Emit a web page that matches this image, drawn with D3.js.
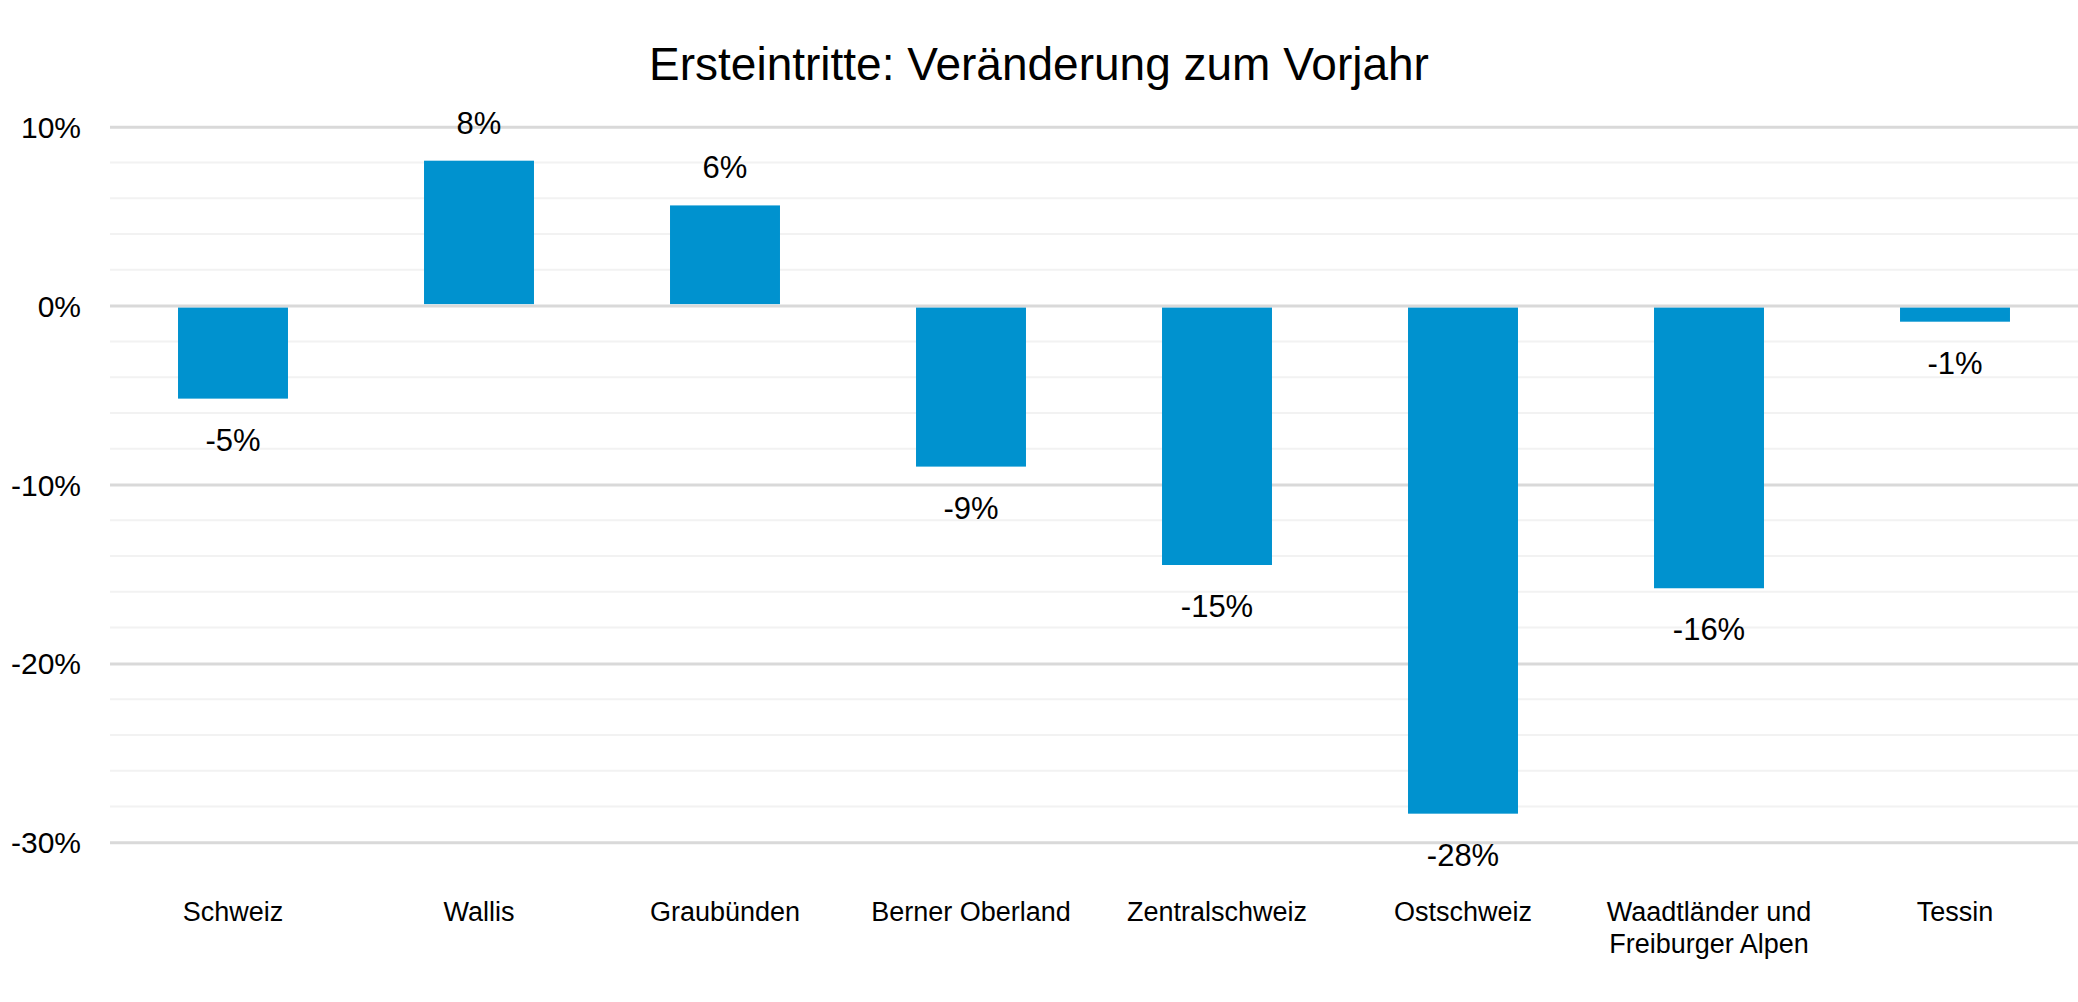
<!DOCTYPE html>
<html>
<head>
<meta charset="utf-8">
<script src="https://cdn.jsdelivr.net/npm/d3@7"></script>
<style>
  body { margin: 0; background: #fff; }
  text { font-family: "Liberation Sans", Arial, sans-serif; fill: #000; }
</style>
</head>
<body>
<script>
// data
var regions = ['Schweiz', 'Wallis', 'Graubünden', 'Berner Oberland', 'Zentralschweiz', 'Ostschweiz', 'Waadtländer und|Freiburger Alpen', 'Tessin'];
var changes = [-5.2, 8.1, 5.6, -9.0, -14.5, -28.4, -15.8, -0.9];
var labels = ['-5%', '8%', '6%', '-9%', '-15%', '-28%', '-16%', '-1%'];
var majorTicks = [10, 0, -10, -20, -30];

var width = 2078, height = 1002;

var svg = d3.select('body').append('svg')
  .attr('width', width)
  .attr('height', height);

var x = d3.scaleBand()
  .domain(regions)
  .range([110, 2078])
  .paddingInner(0.553)
  .paddingOuter(0.2765);

var y = d3.scaleLinear()
  .domain([10, -30])
  .range([126.7, 842.3]);

// minor gridlines every 2%
var minorTicks = d3.range(-30, 10.1, 2).filter(function(d) { return d % 10 !== 0; });
svg.append('g').selectAll('line')
  .data(minorTicks)
  .enter()
    .append('line')
    .attr('x1', 110)
    .attr('x2', width)
    .attr('y1', function(d) { return y(d); })
    .attr('y2', function(d) { return y(d); })
    .attr('stroke', '#f2f2f2')
    .attr('stroke-width', 2);

// major gridlines + tick labels
var yAxis = d3.axisLeft(y)
  .tickValues(majorTicks)
  .tickSize(-(width - 110))
  .tickPadding(30)
  .tickFormat(function(d) { return d + '%'; });

var gy = svg.append('g')
  .attr('transform', 'translate(110,0)')
  .call(yAxis);
gy.select('.domain').remove();
gy.selectAll('.tick line')
  .attr('stroke', '#d9d9d9')
  .attr('stroke-width', 3);
gy.selectAll('.tick text')
  .attr('x', -29)
  .attr('dy', '0.35em')
  .style('font-size', '30px')
  .style('fill', '#000');

// bars
svg.append('g').selectAll('rect')
  .data(changes)
  .enter()
    .append('rect')
    .attr('x', function(d, i) { return x(regions[i]); })
    .attr('width', x.bandwidth())
    .attr('y', function(d) { return d > 0 ? y(d) : y(0) + 2; })
    .attr('height', function(d) { return d > 0 ? y(0) - y(d) - 1.5 : y(d) - y(0) - 2; })
    .attr('fill', '#0092cf');

// data labels
svg.append('g').selectAll('text')
  .data(changes)
  .enter()
    .append('text')
    .attr('x', function(d, i) { return x(regions[i]) + x.bandwidth() / 2; })
    .attr('y', function(d) { return d > 0 ? y(d) - 27 : y(d) + 52; })
    .attr('text-anchor', 'middle')
    .style('font-size', '31px')
    .text(function(d, i) { return labels[i]; });

// category labels
var cat = svg.append('g').selectAll('text')
  .data(regions)
  .enter()
    .append('text')
    .attr('x', function(d) { return x(d) + x.bandwidth() / 2; })
    .attr('y', 921)
    .attr('text-anchor', 'middle')
    .style('font-size', '27px');
cat.each(function(d) {
  var parts = d.split('|');
  var t = d3.select(this);
  parts.forEach(function(p, j) {
    t.append('tspan')
      .attr('x', t.attr('x'))
      .attr('dy', j === 0 ? 0 : 32)
      .text(p);
  });
});

// title
svg.append('text')
  .attr('x', width / 2)
  .attr('y', 80)
  .attr('text-anchor', 'middle')
  .style('font-size', '46px')
  .text('Ersteintritte: Veränderung zum Vorjahr');
</script>
</body>
</html>
